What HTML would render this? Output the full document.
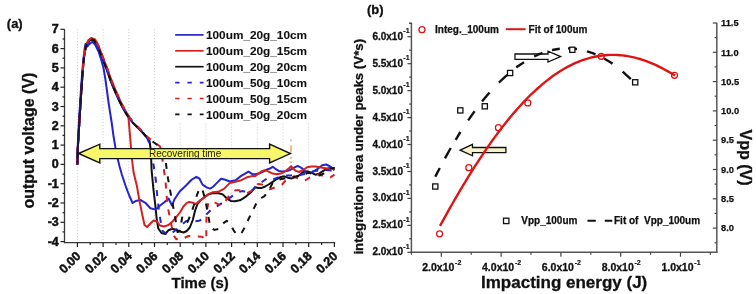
<!DOCTYPE html>
<html><head><meta charset="utf-8"><title>figure</title><style>
*{margin:0;padding:0}
html,body{width:756px;height:294px;background:#fff;overflow:hidden}
svg{display:block;will-change:transform}
text{font-family:"Liberation Sans",sans-serif;fill:#111}
.ta{font-size:12.5px;font-weight:bold;text-anchor:end;stroke:#111;stroke-width:0.5px}
.leg{font-size:11.8px;font-weight:bold;stroke:#111;stroke-width:0.1px}
.rec{font-size:10px;fill:#222211}
.plab{font-size:13px;font-weight:bold;stroke:#111;stroke-width:0.3px}
.ylab{font-size:16px;font-weight:bold;stroke:#111;stroke-width:0.3px}
.xlab{font-size:15px;font-weight:bold;stroke:#111;stroke-width:0.3px}
.tb{font-size:10px;font-weight:bold;stroke:#111;stroke-width:0.3px}
.tbb{font-size:10.5px;font-weight:bold;stroke:#111;stroke-width:0.3px}
.sup{font-size:7px;font-weight:bold;stroke:#111;stroke-width:0.2px}
.tr{font-size:9.3px;font-weight:bold;stroke:#111;stroke-width:0.25px}
.lb{font-size:10px;font-weight:bold;stroke:#111;stroke-width:0.25px}
.ylabb{font-size:13.3px;font-weight:bold;stroke:#111;stroke-width:0.3px}
.ylabr{font-size:16px;font-weight:bold;stroke:#111;stroke-width:0.3px}
.xlabb{font-size:17px;font-weight:bold;stroke:#111;stroke-width:0.3px}
</style></head>
<body><svg width="756" height="294" viewBox="0 0 756 294">
<rect width="756" height="294" fill="#fff"/>
<line x1="77.4" y1="29.2" x2="77.4" y2="241.6" stroke="#c4c4c4" stroke-width="0.9" stroke-dasharray="1 2"/>
<line x1="103.1" y1="29.2" x2="103.1" y2="241.6" stroke="#c4c4c4" stroke-width="0.9" stroke-dasharray="1 2"/>
<line x1="128.8" y1="29.2" x2="128.8" y2="241.6" stroke="#c4c4c4" stroke-width="0.9" stroke-dasharray="1 2"/>
<line x1="154.5" y1="29.2" x2="154.5" y2="241.6" stroke="#c4c4c4" stroke-width="0.9" stroke-dasharray="1 2"/>
<line x1="180.2" y1="123.5" x2="180.2" y2="241.6" stroke="#c4c4c4" stroke-width="0.9" stroke-dasharray="1 2"/>
<line x1="205.9" y1="123.5" x2="205.9" y2="241.6" stroke="#c4c4c4" stroke-width="0.9" stroke-dasharray="1 2"/>
<line x1="231.6" y1="123.5" x2="231.6" y2="241.6" stroke="#c4c4c4" stroke-width="0.9" stroke-dasharray="1 2"/>
<line x1="257.3" y1="123.5" x2="257.3" y2="241.6" stroke="#c4c4c4" stroke-width="0.9" stroke-dasharray="1 2"/>
<line x1="283.0" y1="123.5" x2="283.0" y2="241.6" stroke="#c4c4c4" stroke-width="0.9" stroke-dasharray="1 2"/>
<line x1="308.7" y1="123.5" x2="308.7" y2="241.6" stroke="#c4c4c4" stroke-width="0.9" stroke-dasharray="1 2"/>
<polyline points="77.4,164.4 77.7,150.0 78.4,138.0 79.6,118.0 81.0,96.0 82.5,74.1 84.0,57.2 85.8,47.0 88.2,41.6 91.2,39.6 94.0,40.7 97.5,46.4 101.0,55.1 106.2,68.5 110.8,81.5 115.0,91.5 119.0,100.5 123.0,108.5 127.2,115.5 132.5,122.5 138.0,128.0 142.5,132.5 146.0,136.5 149.5,141.0 150.8,150.0 151.6,170.0 153.5,190.0 155.3,205.0 156.8,220.0 158.3,228.5 161.5,233.0 165.3,234.0 168.5,230.2 172.2,228.8 176.0,229.8 180.0,231.5 183.6,232.5 186.7,231.0 189.8,227.5 192.8,220.0 195.1,210.5 197.4,204.2 200.5,200.2 204.3,197.2 208.4,194.4 212.4,193.2 218.6,193.2 222.7,194.4 226.7,198.3 230.8,200.9 234.9,201.3 240.0,200.3 245.1,197.2 251.2,192.1 255.0,187.2 258.4,187.9 261.8,187.9 265.2,186.5 268.6,184.5 272.7,181.8 276.8,179.0 280.9,177.0 284.3,176.3 287.7,177.7 291.7,178.4 295.8,177.0 299.1,175.4 303.2,172.0 307.2,171.3 311.3,172.7 315.4,174.7 319.5,173.4 323.6,170.6 327.7,168.6 331.7,167.9 334.5,167.9" fill="none" stroke="#111" stroke-width="2.0" stroke-linejoin="round"/>
<polyline points="77.4,164.4 77.8,145.0 79.0,120.0 80.6,95.0 82.2,72.0 83.6,57.0 84.6,49.0 85.4,44.2 86.3,43.8 87.3,46.5 89.2,44.2 92.4,41.8 95.5,45.2 98.5,51.5 100.8,58.5 103.4,67.5 105.2,78.0 106.6,88.0 108.2,100.0 110.0,112.0 111.6,122.0 113.5,136.0 115.5,148.0 117.5,158.0 119.7,167.0 122.0,175.0 125.4,185.3 129.2,195.5 132.6,203.0 135.6,201.1 140.7,200.1 145.8,203.2 150.4,208.2 155.9,209.6 159.5,206.0 164.0,202.5 168.6,198.5 172.0,205.5 174.5,199.3 179.7,191.5 186.0,185.5 191.9,179.5 196.3,176.8 199.4,178.5 202.5,184.6 207.1,187.6 210.1,188.6 212.8,187.0 216.7,183.1 221.0,178.8 225.3,179.7 229.7,181.5 235.5,180.2 241.2,175.9 248.5,171.6 252.8,174.3 255.0,174.3 259.1,173.6 263.2,171.6 267.2,169.5 269.3,168.8 272.7,166.8 275.4,168.8 278.8,170.9 282.2,171.6 286.3,170.9 289.7,170.2 293.1,168.2 297.2,166.1 299.1,166.5 302.5,168.6 305.9,172.2 310.0,173.0 314.0,171.3 318.1,168.6 322.2,165.2 326.3,164.5 330.4,166.6 334.5,170.2" fill="none" stroke="#2424d0" stroke-width="2.0" stroke-linejoin="round"/>
<polyline points="77.4,164.4 77.7,150.0 78.4,138.0 79.6,118.0 81.0,96.0 82.5,74.0 84.0,57.0 85.8,46.5 88.2,40.5 91.2,38.0 95.1,39.5 98.6,46.0 102.1,55.0 107.3,68.5 111.9,81.5 116.1,91.5 120.1,100.5 124.1,108.5 128.3,115.5 129.0,124.0 130.4,140.0 131.8,158.0 133.5,172.0 136.9,186.0 139.4,200.6 142.0,213.4 144.5,225.0 147.1,227.0 150.9,223.0 153.5,220.5 157.0,221.5 160.0,225.5 164.0,226.5 168.5,225.0 172.5,221.5 176.0,217.5 180.6,211.5 183.4,206.5 186.8,202.9 189.3,202.0 192.7,202.7 195.7,204.0 200.4,200.4 205.5,196.8 208.9,193.8 212.3,192.3 218.1,191.8 223.9,188.9 229.7,183.1 235.5,181.7 241.2,180.2 247.0,177.3 252.8,175.9 255.0,176.3 258.4,173.6 262.5,170.9 265.2,170.2 268.6,171.6 272.7,173.6 276.8,174.3 280.9,173.6 284.9,171.6 289.0,168.2 291.1,166.1 293.1,168.8 295.8,170.9 299.1,172.0 303.2,170.0 307.2,167.2 311.3,166.6 315.4,166.6 319.5,167.2 323.6,167.9 327.7,168.6 334.5,167.9" fill="none" stroke="#d62020" stroke-width="2.0" stroke-linejoin="round"/>
<polyline points="77.4,164.4 77.7,150.0 78.4,138.0 79.6,118.0 81.0,96.1 82.5,74.2 84.0,57.4 85.8,47.5 88.2,42.5 91.2,40.8 94.5,41.6 98.0,46.7 101.5,55.1 106.7,68.5 111.3,81.5 115.5,91.5 119.5,100.5 123.5,108.5 127.7,115.5 133.0,122.5 138.5,128.0 143.0,132.5 146.5,136.5 149.9,144.5 151.8,156.0 153.9,167.0 155.8,180.0 157.2,195.0 158.9,210.5 160.8,222.5 162.2,230.5 165.3,233.0 168.3,235.5 172.0,233.0 177.0,229.0 182.0,224.5 186.3,221.0 191.9,221.5 198.9,220.8 203.0,219.0 206.3,214.5 212.4,208.5 218.6,205.4 224.7,201.3 230.8,197.2 236.9,192.1 243.1,191.1 249.2,193.2 253.3,189.5 256.4,185.9 260.4,183.1 264.0,180.5 268.6,177.7 272.7,179.7 278.8,177.0 284.3,175.6 290.4,175.6 296.0,174.5 300.0,175.0 304.5,174.0 308.6,172.7 315.4,170.6 320.0,171.0 326.3,170.0 334.5,170.6" fill="none" stroke="#2424d0" stroke-width="2.0" stroke-linejoin="round" stroke-dasharray="6 7.5" stroke-dashoffset="3"/>
<polyline points="77.4,164.4 77.7,150.0 78.4,138.0 79.6,118.0 81.0,96.0 82.5,74.0 84.0,57.0 85.8,46.5 88.2,40.5 91.2,38.0 95.1,39.5 98.6,46.0 102.1,55.0 107.3,68.5 111.9,81.5 116.1,91.5 120.1,100.5 124.1,108.5 128.3,115.5 133.6,122.5 139.1,128.0 143.6,132.5 147.1,136.5 150.6,139.5 155.6,143.0 160.1,146.5 161.5,152.0 162.6,160.8 164.2,172.0 165.6,182.0 166.5,195.0 168.2,209.0 170.0,218.0 171.8,227.0 173.8,235.5 176.3,239.3 179.0,237.5 183.0,238.5 188.6,236.0 194.0,236.3 202.0,236.7 206.3,240.0 206.3,225.0 206.6,212.0 208.4,202.5 212.4,201.3 216.5,203.4 220.6,205.4 224.7,202.3 229.7,194.7 235.5,190.3 241.2,190.3 247.0,193.2 252.8,190.3 258.0,184.0 262.0,184.5 266.6,188.0 270.0,189.3 275.4,187.2 282.2,184.5 285.6,180.4 290.0,178.0 294.0,176.5 298.0,178.5 302.0,180.5 306.0,180.0 310.0,177.4 314.0,175.5 318.1,174.5 322.0,175.5 326.0,177.0 330.4,177.4 334.5,174.7" fill="none" stroke="#d62020" stroke-width="2.0" stroke-linejoin="round" stroke-dasharray="6 7.5" stroke-dashoffset="0"/>
<polyline points="77.4,164.4 77.7,150.0 78.4,138.0 79.6,118.0 81.0,96.0 82.5,74.1 84.0,57.2 85.8,46.8 88.2,41.2 91.2,39.0 94.2,40.3 97.7,46.3 101.2,55.0 106.4,68.5 111.0,81.5 115.2,91.5 119.2,100.5 123.2,108.5 127.4,115.5 132.7,122.5 138.2,128.0 142.7,132.5 146.2,136.5 149.7,139.5 154.7,143.0 159.2,146.5 163.5,150.5 165.5,160.0 166.8,170.0 168.0,178.4 170.3,191.5 172.5,203.0 174.5,214.0 176.3,224.0 177.5,232.0 179.7,231.0 182.4,216.5 185.2,220.5 187.5,222.0 191.0,214.0 193.6,206.0 196.3,196.8 199.5,188.5 202.0,188.5 204.3,196.0 206.5,206.0 208.4,216.5 210.4,227.5 214.5,229.9 218.6,228.9 222.7,223.8 226.7,220.7 230.8,224.8 233.9,230.9 236.9,234.5 241.0,234.0 245.1,226.8 249.2,217.7 253.3,209.5 257.3,201.3 261.4,198.0 264.5,196.1 268.6,190.6 272.7,183.0 278.1,179.7 284.0,178.5 290.0,177.5 296.0,176.5 302.0,175.5 308.6,172.7 314.0,174.5 319.5,175.4 324.3,173.4 329.0,168.6 334.5,167.9" fill="none" stroke="#111" stroke-width="2.0" stroke-linejoin="round" stroke-dasharray="6 7.5" stroke-dashoffset="6.8"/>
<polyline points="77.4,164.4 77.7,150.0 78.4,138.0 79.6,118.0 81.0,96.0 82.5,74.0" fill="none" stroke="#16164a" stroke-width="2.0" stroke-linejoin="round"/>
<line x1="291" y1="139.6" x2="291" y2="141.2" stroke="#999" stroke-width="1.2"/>
<line x1="291" y1="145.4" x2="291" y2="152.6" stroke="#f0a050" stroke-width="1.4"/>
<line x1="291" y1="157" x2="291" y2="158.8" stroke="#f0a050" stroke-width="1.4"/>
<line x1="291" y1="161.2" x2="291" y2="163" stroke="#f0a050" stroke-width="1.4"/>
<line x1="64.5" y1="29.2" x2="64.5" y2="243.2" stroke="#3a3a3a" stroke-width="1.3"/>
<line x1="63.9" y1="242.6" x2="335.20000000000005" y2="242.6" stroke="#3a3a3a" stroke-width="1.3"/>
<line x1="60.5" y1="241.6" x2="64.5" y2="241.6" stroke="#222" stroke-width="1.2"/>
<text x="58.8" y="245.6" class="ta">-4</text>
<line x1="62.5" y1="231.9" x2="64.5" y2="231.9" stroke="#222" stroke-width="1.2"/>
<line x1="60.5" y1="222.3" x2="64.5" y2="222.3" stroke="#222" stroke-width="1.2"/>
<text x="58.8" y="226.3" class="ta">-3</text>
<line x1="62.5" y1="212.7" x2="64.5" y2="212.7" stroke="#222" stroke-width="1.2"/>
<line x1="60.5" y1="203.0" x2="64.5" y2="203.0" stroke="#222" stroke-width="1.2"/>
<text x="58.8" y="207.0" class="ta">-2</text>
<line x1="62.5" y1="193.4" x2="64.5" y2="193.4" stroke="#222" stroke-width="1.2"/>
<line x1="60.5" y1="183.7" x2="64.5" y2="183.7" stroke="#222" stroke-width="1.2"/>
<text x="58.8" y="187.7" class="ta">-1</text>
<line x1="62.5" y1="174.1" x2="64.5" y2="174.1" stroke="#222" stroke-width="1.2"/>
<line x1="60.5" y1="164.4" x2="64.5" y2="164.4" stroke="#222" stroke-width="1.2"/>
<text x="58.8" y="168.4" class="ta">0</text>
<line x1="62.5" y1="154.8" x2="64.5" y2="154.8" stroke="#222" stroke-width="1.2"/>
<line x1="60.5" y1="145.1" x2="64.5" y2="145.1" stroke="#222" stroke-width="1.2"/>
<text x="58.8" y="149.1" class="ta">1</text>
<line x1="62.5" y1="135.4" x2="64.5" y2="135.4" stroke="#222" stroke-width="1.2"/>
<line x1="60.5" y1="125.8" x2="64.5" y2="125.8" stroke="#222" stroke-width="1.2"/>
<text x="58.8" y="129.8" class="ta">2</text>
<line x1="62.5" y1="116.2" x2="64.5" y2="116.2" stroke="#222" stroke-width="1.2"/>
<line x1="60.5" y1="106.5" x2="64.5" y2="106.5" stroke="#222" stroke-width="1.2"/>
<text x="58.8" y="110.5" class="ta">3</text>
<line x1="62.5" y1="96.9" x2="64.5" y2="96.9" stroke="#222" stroke-width="1.2"/>
<line x1="60.5" y1="87.2" x2="64.5" y2="87.2" stroke="#222" stroke-width="1.2"/>
<text x="58.8" y="91.2" class="ta">4</text>
<line x1="62.5" y1="77.5" x2="64.5" y2="77.5" stroke="#222" stroke-width="1.2"/>
<line x1="60.5" y1="67.9" x2="64.5" y2="67.9" stroke="#222" stroke-width="1.2"/>
<text x="58.8" y="71.9" class="ta">5</text>
<line x1="62.5" y1="58.2" x2="64.5" y2="58.2" stroke="#222" stroke-width="1.2"/>
<line x1="60.5" y1="48.6" x2="64.5" y2="48.6" stroke="#222" stroke-width="1.2"/>
<text x="58.8" y="52.6" class="ta">6</text>
<line x1="62.5" y1="39.0" x2="64.5" y2="39.0" stroke="#222" stroke-width="1.2"/>
<line x1="60.5" y1="29.3" x2="64.5" y2="29.3" stroke="#222" stroke-width="1.2"/>
<text x="58.8" y="33.3" class="ta">7</text>
<line x1="77.4" y1="242.6" x2="77.4" y2="246.9" stroke="#222" stroke-width="1.2"/>
<line x1="90.2" y1="242.6" x2="90.2" y2="245.1" stroke="#222" stroke-width="1.2"/>
<text transform="translate(81.4,256.8) rotate(-45)" class="ta" text-anchor="end">0.00</text>
<line x1="103.1" y1="242.6" x2="103.1" y2="246.9" stroke="#222" stroke-width="1.2"/>
<line x1="116.0" y1="242.6" x2="116.0" y2="245.1" stroke="#222" stroke-width="1.2"/>
<text transform="translate(107.1,256.8) rotate(-45)" class="ta" text-anchor="end">0.02</text>
<line x1="128.8" y1="242.6" x2="128.8" y2="246.9" stroke="#222" stroke-width="1.2"/>
<line x1="141.7" y1="242.6" x2="141.7" y2="245.1" stroke="#222" stroke-width="1.2"/>
<text transform="translate(132.8,256.8) rotate(-45)" class="ta" text-anchor="end">0.04</text>
<line x1="154.5" y1="242.6" x2="154.5" y2="246.9" stroke="#222" stroke-width="1.2"/>
<line x1="167.3" y1="242.6" x2="167.3" y2="245.1" stroke="#222" stroke-width="1.2"/>
<text transform="translate(158.5,256.8) rotate(-45)" class="ta" text-anchor="end">0.06</text>
<line x1="180.2" y1="242.6" x2="180.2" y2="246.9" stroke="#222" stroke-width="1.2"/>
<line x1="193.1" y1="242.6" x2="193.1" y2="245.1" stroke="#222" stroke-width="1.2"/>
<text transform="translate(184.2,256.8) rotate(-45)" class="ta" text-anchor="end">0.08</text>
<line x1="205.9" y1="242.6" x2="205.9" y2="246.9" stroke="#222" stroke-width="1.2"/>
<line x1="218.8" y1="242.6" x2="218.8" y2="245.1" stroke="#222" stroke-width="1.2"/>
<text transform="translate(209.9,256.8) rotate(-45)" class="ta" text-anchor="end">0.10</text>
<line x1="231.6" y1="242.6" x2="231.6" y2="246.9" stroke="#222" stroke-width="1.2"/>
<line x1="244.5" y1="242.6" x2="244.5" y2="245.1" stroke="#222" stroke-width="1.2"/>
<text transform="translate(235.6,256.8) rotate(-45)" class="ta" text-anchor="end">0.12</text>
<line x1="257.3" y1="242.6" x2="257.3" y2="246.9" stroke="#222" stroke-width="1.2"/>
<line x1="270.2" y1="242.6" x2="270.2" y2="245.1" stroke="#222" stroke-width="1.2"/>
<text transform="translate(261.3,256.8) rotate(-45)" class="ta" text-anchor="end">0.14</text>
<line x1="283.0" y1="242.6" x2="283.0" y2="246.9" stroke="#222" stroke-width="1.2"/>
<line x1="295.9" y1="242.6" x2="295.9" y2="245.1" stroke="#222" stroke-width="1.2"/>
<text transform="translate(287.0,256.8) rotate(-45)" class="ta" text-anchor="end">0.16</text>
<line x1="308.7" y1="242.6" x2="308.7" y2="246.9" stroke="#222" stroke-width="1.2"/>
<line x1="321.6" y1="242.6" x2="321.6" y2="245.1" stroke="#222" stroke-width="1.2"/>
<text transform="translate(312.7,256.8) rotate(-45)" class="ta" text-anchor="end">0.18</text>
<line x1="334.4" y1="242.6" x2="334.4" y2="246.9" stroke="#222" stroke-width="1.2"/>
<text transform="translate(338.4,256.8) rotate(-45)" class="ta" text-anchor="end">0.20</text>
<line x1="175.2" y1="34.9" x2="203.6" y2="34.9" stroke="#2424d0" stroke-width="1.7"/>
<text x="206" y="39.2" class="leg">100um_20g_10cm</text>
<line x1="175.2" y1="50.8" x2="203.6" y2="50.8" stroke="#d62020" stroke-width="1.7"/>
<text x="206" y="55.1" class="leg">100um_20g_15cm</text>
<line x1="175.2" y1="66.7" x2="203.6" y2="66.7" stroke="#111" stroke-width="1.7"/>
<text x="206" y="71.0" class="leg">100um_20g_20cm</text>
<line x1="175.2" y1="82.6" x2="203.6" y2="82.6" stroke="#2424d0" stroke-width="1.7" stroke-dasharray="4.3 8"/>
<text x="206" y="86.9" class="leg">100um_50g_10cm</text>
<line x1="175.2" y1="98.5" x2="203.6" y2="98.5" stroke="#d62020" stroke-width="1.7" stroke-dasharray="4.3 8"/>
<text x="206" y="102.8" class="leg">100um_50g_15cm</text>
<line x1="175.2" y1="114.4" x2="203.6" y2="114.4" stroke="#111" stroke-width="1.7" stroke-dasharray="4.3 8"/>
<text x="206" y="118.7" class="leg">100um_50g_20cm</text>
<polygon points="78.5,153.5 99.8,144.2 99.8,148.6 269.6,148.6 269.6,144.2 290.4,153.6 269.6,163.0 269.6,158.6 99.8,158.6 99.8,163.0" fill="#f7f76a" stroke="#111" stroke-width="1.4" stroke-linejoin="miter"/>
<text x="149.0" y="156.7" class="rec">Recovering time</text>
<text x="6.8" y="27.5" class="plab">(a)</text>
<text transform="translate(33.8,208.6) rotate(-90)" class="ylab">output voltage (V)</text>
<text x="171.5" y="288.3" class="xlab">Time (s)</text>
<line x1="411.4" y1="22.8" x2="411.4" y2="252.9" stroke="#555" stroke-width="1.5"/>
<line x1="716.8" y1="22.8" x2="716.8" y2="252.9" stroke="#555" stroke-width="1.5"/>
<line x1="410.79999999999995" y1="252.3" x2="717.4" y2="252.3" stroke="#555" stroke-width="1.5"/>
<line x1="407.4" y1="252.3" x2="411.4" y2="252.3" stroke="#444" stroke-width="1.2"/>
<text x="403.0" y="255.3" class="tb" text-anchor="end">2.0x10</text>
<text x="403.3" y="248.8" class="sup">-1</text>
<line x1="409.2" y1="238.8" x2="411.4" y2="238.8" stroke="#444" stroke-width="1.2"/>
<line x1="407.4" y1="225.4" x2="411.4" y2="225.4" stroke="#444" stroke-width="1.2"/>
<text x="403.0" y="228.4" class="tb" text-anchor="end">2.5x10</text>
<text x="403.3" y="221.9" class="sup">-1</text>
<line x1="409.2" y1="211.9" x2="411.4" y2="211.9" stroke="#444" stroke-width="1.2"/>
<line x1="407.4" y1="198.4" x2="411.4" y2="198.4" stroke="#444" stroke-width="1.2"/>
<text x="403.0" y="201.4" class="tb" text-anchor="end">3.0x10</text>
<text x="403.3" y="194.9" class="sup">-1</text>
<line x1="409.2" y1="184.9" x2="411.4" y2="184.9" stroke="#444" stroke-width="1.2"/>
<line x1="407.4" y1="171.5" x2="411.4" y2="171.5" stroke="#444" stroke-width="1.2"/>
<text x="403.0" y="174.5" class="tb" text-anchor="end">3.5x10</text>
<text x="403.3" y="168.0" class="sup">-1</text>
<line x1="409.2" y1="158.0" x2="411.4" y2="158.0" stroke="#444" stroke-width="1.2"/>
<line x1="407.4" y1="144.5" x2="411.4" y2="144.5" stroke="#444" stroke-width="1.2"/>
<text x="403.0" y="147.5" class="tb" text-anchor="end">4.0x10</text>
<text x="403.3" y="141.0" class="sup">-1</text>
<line x1="409.2" y1="131.0" x2="411.4" y2="131.0" stroke="#444" stroke-width="1.2"/>
<line x1="407.4" y1="117.6" x2="411.4" y2="117.6" stroke="#444" stroke-width="1.2"/>
<text x="403.0" y="120.6" class="tb" text-anchor="end">4.5x10</text>
<text x="403.3" y="114.1" class="sup">-1</text>
<line x1="409.2" y1="104.1" x2="411.4" y2="104.1" stroke="#444" stroke-width="1.2"/>
<line x1="407.4" y1="90.6" x2="411.4" y2="90.6" stroke="#444" stroke-width="1.2"/>
<text x="403.0" y="93.6" class="tb" text-anchor="end">5.0x10</text>
<text x="403.3" y="87.1" class="sup">-1</text>
<line x1="409.2" y1="77.1" x2="411.4" y2="77.1" stroke="#444" stroke-width="1.2"/>
<line x1="407.4" y1="63.7" x2="411.4" y2="63.7" stroke="#444" stroke-width="1.2"/>
<text x="403.0" y="66.7" class="tb" text-anchor="end">5.5x10</text>
<text x="403.3" y="60.2" class="sup">-1</text>
<line x1="409.2" y1="50.2" x2="411.4" y2="50.2" stroke="#444" stroke-width="1.2"/>
<line x1="407.4" y1="36.7" x2="411.4" y2="36.7" stroke="#444" stroke-width="1.2"/>
<text x="403.0" y="39.7" class="tb" text-anchor="end">6.0x10</text>
<text x="403.3" y="33.2" class="sup">-1</text>
<line x1="409.2" y1="23.2" x2="411.4" y2="23.2" stroke="#444" stroke-width="1.2"/>
<line x1="409.2" y1="23.3" x2="411.4" y2="23.3" stroke="#444" stroke-width="1.2"/>
<line x1="712.8" y1="228.1" x2="716.8" y2="228.1" stroke="#444" stroke-width="1.2"/>
<text x="721" y="231.3" class="tr">8.0</text>
<line x1="714.5999999999999" y1="242.8" x2="716.8" y2="242.8" stroke="#444" stroke-width="1.2"/>
<line x1="712.8" y1="198.8" x2="716.8" y2="198.8" stroke="#444" stroke-width="1.2"/>
<text x="721" y="202.0" class="tr">8.5</text>
<line x1="714.5999999999999" y1="213.4" x2="716.8" y2="213.4" stroke="#444" stroke-width="1.2"/>
<line x1="712.8" y1="169.5" x2="716.8" y2="169.5" stroke="#444" stroke-width="1.2"/>
<text x="721" y="172.7" class="tr">9.0</text>
<line x1="714.5999999999999" y1="184.1" x2="716.8" y2="184.1" stroke="#444" stroke-width="1.2"/>
<line x1="712.8" y1="140.2" x2="716.8" y2="140.2" stroke="#444" stroke-width="1.2"/>
<text x="721" y="143.4" class="tr">9.5</text>
<line x1="714.5999999999999" y1="154.8" x2="716.8" y2="154.8" stroke="#444" stroke-width="1.2"/>
<line x1="712.8" y1="110.9" x2="716.8" y2="110.9" stroke="#444" stroke-width="1.2"/>
<text x="721" y="114.1" class="tr">10.0</text>
<line x1="714.5999999999999" y1="125.5" x2="716.8" y2="125.5" stroke="#444" stroke-width="1.2"/>
<line x1="712.8" y1="81.6" x2="716.8" y2="81.6" stroke="#444" stroke-width="1.2"/>
<text x="721" y="84.8" class="tr">10.5</text>
<line x1="714.5999999999999" y1="96.2" x2="716.8" y2="96.2" stroke="#444" stroke-width="1.2"/>
<line x1="712.8" y1="52.3" x2="716.8" y2="52.3" stroke="#444" stroke-width="1.2"/>
<text x="721" y="55.5" class="tr">11.0</text>
<line x1="714.5999999999999" y1="66.9" x2="716.8" y2="66.9" stroke="#444" stroke-width="1.2"/>
<line x1="712.8" y1="23.0" x2="716.8" y2="23.0" stroke="#444" stroke-width="1.2"/>
<text x="721" y="26.2" class="tr">11.5</text>
<line x1="714.5999999999999" y1="37.6" x2="716.8" y2="37.6" stroke="#444" stroke-width="1.2"/>
<line x1="411.4" y1="252.3" x2="411.4" y2="254.70000000000002" stroke="#444" stroke-width="1.2"/>
<line x1="441.3" y1="252.3" x2="441.3" y2="256.7" stroke="#444" stroke-width="1.2"/>
<text x="438.3" y="270.6" class="tbb" text-anchor="middle">2.0x10</text>
<text x="455.1" y="265.0" class="sup">-2</text>
<line x1="471.2" y1="252.3" x2="471.2" y2="254.70000000000002" stroke="#444" stroke-width="1.2"/>
<line x1="501.1" y1="252.3" x2="501.1" y2="256.7" stroke="#444" stroke-width="1.2"/>
<text x="498.1" y="270.6" class="tbb" text-anchor="middle">4.0x10</text>
<text x="514.9" y="265.0" class="sup">-2</text>
<line x1="531.0" y1="252.3" x2="531.0" y2="254.70000000000002" stroke="#444" stroke-width="1.2"/>
<line x1="560.9" y1="252.3" x2="560.9" y2="256.7" stroke="#444" stroke-width="1.2"/>
<text x="557.9" y="270.6" class="tbb" text-anchor="middle">6.0x10</text>
<text x="574.7" y="265.0" class="sup">-2</text>
<line x1="590.8" y1="252.3" x2="590.8" y2="254.70000000000002" stroke="#444" stroke-width="1.2"/>
<line x1="620.7" y1="252.3" x2="620.7" y2="256.7" stroke="#444" stroke-width="1.2"/>
<text x="617.7" y="270.6" class="tbb" text-anchor="middle">8.0x10</text>
<text x="634.5" y="265.0" class="sup">-2</text>
<line x1="650.6" y1="252.3" x2="650.6" y2="254.70000000000002" stroke="#444" stroke-width="1.2"/>
<line x1="680.5" y1="252.3" x2="680.5" y2="256.7" stroke="#444" stroke-width="1.2"/>
<text x="677.5" y="270.6" class="tbb" text-anchor="middle">1.0x10</text>
<text x="694.3" y="265.0" class="sup">-1</text>
<line x1="710.4" y1="252.3" x2="710.4" y2="254.70000000000002" stroke="#444" stroke-width="1.2"/>
<polygon points="515.0,54.0 548.0,54.0 548.0,51.2 560.6,56.6 548.0,62.0 548.0,59.4 515.0,59.4" fill="#fff" stroke="#111" stroke-width="1.3"/>
<polygon points="460.2,150.2 472.5,144.4 472.5,147.5 505.9,147.5 505.9,152.7 472.5,152.7 472.5,155.8" fill="#f6f2cc" stroke="#111" stroke-width="1.3"/>
<polyline points="440.0,225.9 442.5,221.4 445.0,216.9 447.5,212.4 450.0,207.9 452.5,203.5 455.0,199.2 457.5,194.9 460.0,190.6 462.5,186.4 465.0,182.3 467.5,178.2 470.0,174.2 472.5,170.2 475.0,166.2 477.5,162.4 480.0,158.5 482.5,154.8 485.0,151.1 487.5,147.4 490.0,143.9 492.5,140.3 495.0,136.9 497.5,133.5 500.0,130.2 502.5,126.9 505.0,123.7 507.5,120.6 510.0,117.5 512.5,114.5 515.0,111.6 517.5,108.7 520.0,106.0 522.5,103.2 525.0,100.6 527.5,98.0 530.0,95.5 532.5,93.1 535.0,90.8 537.5,88.5 540.0,86.3 542.5,84.1 545.0,82.1 547.5,80.1 550.0,78.2 552.5,76.3 555.0,74.6 557.5,72.9 560.0,71.3 562.5,69.7 565.0,68.3 567.5,66.9 570.0,65.6 572.5,64.4 575.0,63.2 577.5,62.1 580.0,61.1 582.5,60.2 585.0,59.3 587.5,58.6 590.0,57.9 592.5,57.2 595.0,56.7 597.5,56.2 600.0,55.8 602.5,55.5 605.0,55.2 607.5,55.0 610.0,54.9 612.5,54.9 615.0,54.9 617.5,55.0 620.0,55.2 622.5,55.4 625.0,55.7 627.5,56.1 630.0,56.6 632.5,57.1 635.0,57.7 637.5,58.3 640.0,59.0 642.5,59.8 645.0,60.7 647.5,61.6 650.0,62.6 652.5,63.6 655.0,64.7 657.5,65.9 660.0,67.1 662.5,68.4 665.0,69.7 667.5,71.1 670.0,72.5 672.5,74.0 675.0,75.6" fill="none" stroke="#dd1515" stroke-width="2.4" stroke-linejoin="round"/>
<polyline points="435.3,176.7 436.2,174.9 437.1,173.1 438.0,171.4 438.9,169.7 439.8,168.0" fill="none" stroke="#111" stroke-width="2.4"/>
<polyline points="445.0,158.3 446.2,156.2 447.3,154.1 448.5,152.0 449.6,150.0 450.8,148.0" fill="none" stroke="#111" stroke-width="2.4"/>
<polyline points="455.6,139.9 456.6,138.3 457.6,136.7 458.5,135.1 459.5,133.5 460.5,132.0" fill="none" stroke="#111" stroke-width="2.4"/>
<polyline points="468.1,120.4 469.4,118.6 470.7,116.7 472.0,114.9 473.3,113.1 474.6,111.3" fill="none" stroke="#111" stroke-width="2.4"/>
<polyline points="482.1,101.5 483.6,99.6 485.1,97.8 486.6,96.0 488.1,94.3 489.6,92.6" fill="none" stroke="#111" stroke-width="2.4"/>
<polyline points="498.9,82.6 500.6,81.0 502.3,79.4 503.9,77.8 505.6,76.3 507.3,74.8" fill="none" stroke="#111" stroke-width="2.4"/>
<polyline points="516.3,67.5 517.8,66.3 519.4,65.2 520.9,64.2 522.5,63.2 524.0,62.2" fill="none" stroke="#111" stroke-width="2.4"/>
<polyline points="534.2,56.5 535.9,55.7 537.5,54.9 539.2,54.2 540.8,53.6 542.5,52.9" fill="none" stroke="#111" stroke-width="2.4"/>
<polyline points="552.0,50.1 553.6,49.8 555.1,49.5 556.7,49.2 558.2,49.0 559.8,48.8" fill="none" stroke="#111" stroke-width="2.4"/>
<polyline points="568.0,48.4 569.8,48.4 571.6,48.5 573.4,48.6 575.2,48.8 577.0,49.1" fill="none" stroke="#111" stroke-width="2.4"/>
<polyline points="587.0,51.3 588.7,51.8 590.4,52.3 592.1,53.0 593.8,53.6 595.5,54.3" fill="none" stroke="#111" stroke-width="2.4"/>
<polyline points="604.0,58.5 605.7,59.5 607.4,60.5 609.1,61.5 610.8,62.6 612.5,63.8" fill="none" stroke="#111" stroke-width="2.4"/>
<polyline points="622.7,71.7 624.3,73.1 625.9,74.6 627.6,76.1 629.2,77.6 630.8,79.2" fill="none" stroke="#111" stroke-width="2.4"/>
<rect x="432.7" y="183.9" width="5.2" height="5.2" fill="#fff" stroke="#111" stroke-width="1.3"/>
<rect x="457.7" y="107.8" width="5.2" height="5.2" fill="#fff" stroke="#111" stroke-width="1.3"/>
<rect x="482.2" y="103.7" width="5.2" height="5.2" fill="#fff" stroke="#111" stroke-width="1.3"/>
<rect x="507.5" y="70.4" width="5.2" height="5.2" fill="#fff" stroke="#111" stroke-width="1.3"/>
<rect x="569.7" y="47.2" width="5.2" height="5.2" fill="#fff" stroke="#111" stroke-width="1.3"/>
<rect x="632.6" y="79.7" width="5.2" height="5.2" fill="#fff" stroke="#111" stroke-width="1.3"/>
<circle cx="439.6" cy="233.8" r="3" fill="none" stroke="#dd1515" stroke-width="1.3"/>
<circle cx="468.8" cy="167.7" r="3" fill="none" stroke="#dd1515" stroke-width="1.3"/>
<circle cx="498.4" cy="127.7" r="3" fill="none" stroke="#dd1515" stroke-width="1.3"/>
<circle cx="527.8" cy="102.9" r="3" fill="none" stroke="#dd1515" stroke-width="1.3"/>
<circle cx="601.2" cy="56.3" r="3" fill="none" stroke="#dd1515" stroke-width="1.3"/>
<circle cx="674.5" cy="75.3" r="3" fill="none" stroke="#dd1515" stroke-width="1.3"/>
<circle cx="422" cy="29.7" r="3" fill="none" stroke="#dd1515" stroke-width="1.3"/>
<text x="435" y="32.7" class="lb">Integ._100um</text>
<line x1="505.8" y1="29.2" x2="525.6" y2="29.2" stroke="#dd1515" stroke-width="2"/>
<text x="528.6" y="32.7" class="lb">Fit of 100um</text>
<rect x="503.5" y="218.2" width="5.4" height="5.4" fill="#fff" stroke="#111" stroke-width="1.3"/>
<text x="521.3" y="224.4" class="lb">Vpp_100um</text>
<line x1="587.5" y1="220.7" x2="612.3" y2="220.7" stroke="#111" stroke-width="2" stroke-dasharray="8.3 9"/>
<text x="614" y="224.4" class="lb" style="white-space:pre">Fit of  Vpp_100um</text>
<text x="366.9" y="14.1" class="plab">(b)</text>
<text transform="translate(362.6,254.6) rotate(-90)" class="ylabb">integration area under peaks (V*s)</text>
<text transform="translate(740.4,129.6) rotate(90)" class="ylabr">Vpp (V)</text>
<text x="481" y="287.8" class="xlabb">Impacting energy (J)</text>
</svg></body></html>
